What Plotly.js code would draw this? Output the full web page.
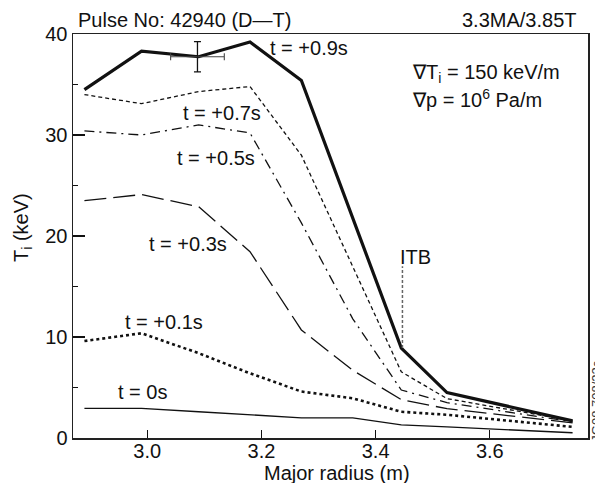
<!DOCTYPE html>
<html>
<head>
<meta charset="utf-8">
<script src="https://cdn.plot.ly/plotly-3.0.1.min.js"></script>
<style>html,body{margin:0;padding:0;background:#fff}#chart{width:595px;height:483px}</style>
</head>
<body>
<div id="chart"></div>
<script>
// Major radius (m) of the measurement points
var radius = [2.89, 2.99, 3.09, 3.18, 3.27, 3.36, 3.445, 3.525, 3.745];
// Ion temperature (keV) profiles at successive times
var ti_t00 = [2.94, 2.94, 2.6, 2.28, 2.0, 2.0, 1.3, 1.1, 0.52];
var ti_t01 = [9.6, 10.37, 8.4, 6.4, 4.6, 3.93, 2.6, 2.3, 1.1];
var ti_t03 = [23.5, 24.1, 22.9, 18.45, 10.7, 6.7, 3.8, 2.9, 1.5];
var ti_t05 = [30.4, 30.0, 31.0, 30.2, 21.3, 11.8, 4.75, 3.5, 1.6];
var ti_t07 = [34.0, 33.1, 34.3, 34.8, 28.0, 17.0, 6.55, 3.9, 1.7];
var ti_t09 = [34.5, 38.3, 37.75, 39.2, 35.4, 21.7, 8.9, 4.5, 1.7];
var seriesNames = ["t = 0s", "t = +0.1s", "t = +0.3s", "t = +0.5s", "t = +0.7s", "t = +0.9s"];
// Representative error bar
var errR = [3.088], errT = [37.75], errDT = [1.5], errDR = [0.047];
// ITB marker
var itbR = [3.447, 3.447], itbT = [8.9, 17.0];
var xTicks = [3.0, 3.2, 3.4, 3.6], xTickText = ["3.0", "3.2", "3.4", "3.6"];
var yTicks = [0, 10, 20, 30, 40], yMinor = [5, 15, 25, 35];

var FONT = "Liberation Sans, Arial, sans-serif";
var styles = [
  {width: 1.3, dash: "solid"},
  {width: 2.6, dash: "dot"},
  {width: 1.3, dash: "22px,7px"},
  {width: 1.3, dash: "10px,5px,2px,5px"},
  {width: 1.3, dash: "4px,3px"},
  {width: 3.2, dash: "solid"}
];
var ys = [ti_t00, ti_t01, ti_t03, ti_t05, ti_t07, ti_t09];
var traces = ys.map(function (y, i) {
  return {x: radius, y: y, type: "scatter", mode: "lines", name: seriesNames[i],
    line: {color: "#111", width: styles[i].width, dash: styles[i].dash}, hoverinfo: "skip"};
});
traces.push({x: itbR, y: itbT, type: "scatter", mode: "lines",
  line: {color: "#666", width: 1.5, dash: "3px,2px"}, hoverinfo: "skip"});
traces.push({x: errR, y: errT, type: "scatter", mode: "markers", marker: {size: 1, color: "#111"},
  error_y: {type: "data", array: errDT, visible: true, color: "#111", thickness: 1.3, width: 3.5},
  error_x: {type: "data", array: errDR, visible: true, color: "#444", thickness: 1.1, width: 3.5}});

var ann = [
  {text: "t = +0.9s", x: 3.212, y: 38.6},
  {text: "t = +0.7s", x: 3.060, y: 32.15},
  {text: "t = +0.5s", x: 3.048, y: 27.7},
  {text: "t = +0.3s", x: 2.999, y: 19.2},
  {text: "t = +0.1s", x: 2.958, y: 11.5},
  {text: "t = 0s", x: 2.946, y: 4.58},
  {text: "ITB", x: 3.440, y: 17.9},
  {text: "\u2207T<sub>i</sub> = 150 keV/m", x: 3.46, y: 36.1},
  {text: "\u2207p = 10<sup>6</sup> Pa/m", x: 3.46, y: 33.6}
].map(function (a) {
  return {text: a.text, x: a.x, y: a.y, xref: "x", yref: "y", xanchor: "left", yanchor: "middle",
    showarrow: false, font: {family: FONT, size: 20, color: "#111"}};
});
function paperAnn(text, x, y, xanchor, extra) {
  var a = {text: text, xref: "paper", yref: "paper", x: x, y: y, xanchor: xanchor, yanchor: "middle",
    showarrow: false, font: {family: FONT, size: 20, color: "#111"}};
  for (var k in (extra || {})) a[k] = extra[k];
  return a;
}
ann.push(paperAnn("Pulse No: 42940 (D\u2014T)", 0.006, 1.035, "left"));
ann.push(paperAnn("3.3MA/3.85T", 0.9825, 1.035, "right"));
ann.push(paperAnn("Major radius (m)", 0.5117, -0.086, "center"));
ann.push(paperAnn("T<sub>i</sub> (keV)", -0.097, 0.52, "center", {textangle: -90}));
ann.push(paperAnn("JG08.708/23c", 1.0175, 0.09, "center",
  {textangle: -90, font: {family: FONT, size: 13, color: "#333"}}));

var layout = {
  width: 595, height: 483,
  margin: {l: 73, r: 7, t: 34, b: 45, pad: 0},
  paper_bgcolor: "#fff", plot_bgcolor: "#fff",
  showlegend: false,
  font: {family: FONT, size: 20, color: "#111"},
  xaxis: {range: [2.87, 3.772], tickvals: xTicks, ticktext: xTickText, ticks: "inside", ticklen: 8,
    tickwidth: 1.2, tickcolor: "#111", showline: true, linecolor: "#222", linewidth: 1.5, mirror: true,
    showgrid: false, zeroline: false, ticklabelstandoff: -6,
    tickfont: {family: FONT, size: 20, color: "#111"}},
  yaxis: {range: [0, 40], tickvals: yTicks, ticks: "inside", ticklen: 12, tickwidth: 1.2, tickcolor: "#111",
    minor: {tickvals: yMinor, ticks: "inside", ticklen: 5, tickwidth: 1.2, tickcolor: "#111"},
    showline: true, linecolor: "#222", linewidth: 1.5, mirror: true,
    showgrid: false, zeroline: false, tickfont: {family: FONT, size: 20, color: "#111"}},
  annotations: ann
};
Plotly.newPlot("chart", traces, layout, {staticPlot: true, displayModeBar: false});
</script>
</body>
</html>
